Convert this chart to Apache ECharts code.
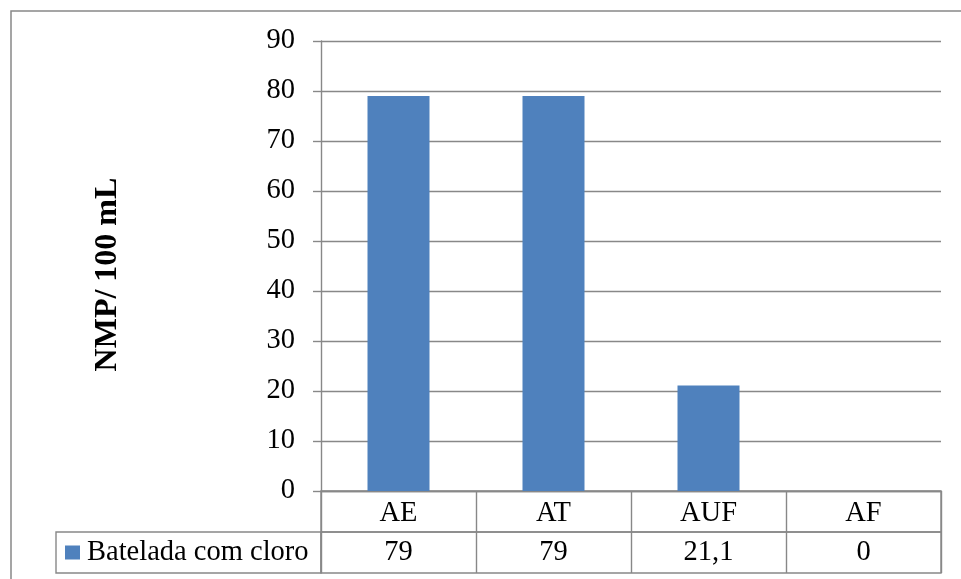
<!DOCTYPE html>
<html>
<head>
<meta charset="utf-8">
<script src="https://cdn.jsdelivr.net/npm/echarts@6/dist/echarts.min.js"></script>
<style>
  html, body { margin: 0; padding: 0; background: #fff; }
  #chart { width: 961px; height: 579px; }
</style>
</head>
<body>
<div id="chart"></div>
<script>
// Amostras e contagens (NMP/100 mL)
const categories = ['AE', 'AT', 'AUF', 'AF'];
const seriesName = 'Batelada com cloro';
const values = [79, 79, 21.1, 0];
const yTicks = [0, 10, 20, 30, 40, 50, 60, 70, 80, 90];

const FONT = "'Liberation Serif', 'Times New Roman', serif";
const FS = 28.5;
const LINE = '#888888';
const LW = 1.4;
const BAR = '#4f81bd';

const fmt = v => String(v).replace('.', ',');

const chart = echarts.init(document.getElementById('chart'), null, { renderer: 'canvas' });

const hiddenValueAxis = idx => ({
  type: 'value', gridIndex: idx, show: false, min: 0, max: 1
});
const tableRowAxis = idx => ({
  type: 'category', gridIndex: idx, data: categories, position: 'bottom',
  axisLine: { show: false }, axisTick: { show: false }, axisLabel: { show: false },
  splitLine: { show: true, interval: 0, lineStyle: { color: LINE, width: LW } }
});

chart.setOption({
  animation: false,
  backgroundColor: '#ffffff',
  textStyle: { fontFamily: FONT },
  grid: [
    // plot area
    { left: 321, right: 20, top: 41, height: 450 },
    // data table: header row
    { left: 321, right: 20, top: 491, height: 41, show: true, borderColor: LINE, borderWidth: LW, backgroundColor: 'transparent' },
    // data table: values row
    { left: 321, right: 20, top: 532, height: 41, show: true, borderColor: LINE, borderWidth: LW, backgroundColor: 'transparent' },
    // data table: legend cell
    { left: 56, width: 265, top: 532, height: 41, show: true, borderColor: LINE, borderWidth: LW, backgroundColor: 'transparent' }
  ],
  legend: {
    data: [seriesName],
    left: 65, top: 538, padding: 0,
    icon: 'rect', itemWidth: 15, itemHeight: 14, itemGap: 0,
    textStyle: { fontFamily: FONT, fontSize: FS, color: '#000', padding: [0, 0, 0, 2] }
  },
  xAxis: [
    {
      type: 'category', gridIndex: 0, data: categories, position: 'bottom',
      axisLine: { show: true, lineStyle: { color: LINE, width: LW } },
      axisTick: { show: false },
      axisLabel: { margin: 23, verticalAlign: 'middle', fontFamily: FONT, fontSize: FS, color: '#000' },
      splitLine: { show: false }
    },
    {
      type: 'category', gridIndex: 0, data: values.map(fmt), position: 'bottom',
      axisLine: { show: false }, axisTick: { show: false },
      axisLabel: { margin: 62, verticalAlign: 'middle', fontFamily: FONT, fontSize: FS, color: '#000' },
      splitLine: { show: false }
    },
    tableRowAxis(1),
    tableRowAxis(2),
    { type: 'category', gridIndex: 3, data: [''], show: false }
  ],
  yAxis: [
    {
      type: 'value', gridIndex: 0, min: yTicks[0], max: yTicks[yTicks.length - 1], interval: 10,
      name: 'NMP/ 100 mL', nameLocation: 'middle', nameRotate: 90, nameGap: 197,
      nameTextStyle: { fontFamily: FONT, fontSize: 32, fontWeight: 'bold', color: '#000', padding: [0, 17, 0, 0] },
      axisLine: { show: true, lineStyle: { color: LINE, width: LW } },
      axisTick: { show: true, length: 8, lineStyle: { color: LINE, width: LW } },
      axisLabel: { margin: 26, fontFamily: FONT, fontSize: FS, color: '#000' },
      splitLine: { show: true, lineStyle: { color: LINE, width: LW } }
    },
    hiddenValueAxis(1),
    hiddenValueAxis(2),
    hiddenValueAxis(3)
  ],
  series: [{
    name: seriesName,
    type: 'bar',
    xAxisIndex: 0, yAxisIndex: 0,
    data: values,
    barWidth: '40%',
    itemStyle: { color: BAR },
    emphasis: { disabled: true }
  }],
  graphic: [{
    // outer chart frame
    type: 'rect', z: -1, silent: true,
    shape: { x: 11, y: 11, width: 1000, height: 1000 },
    style: { fill: 'none', stroke: LINE, lineWidth: 1.5 }
  }]
});
</script>
</body>
</html>
